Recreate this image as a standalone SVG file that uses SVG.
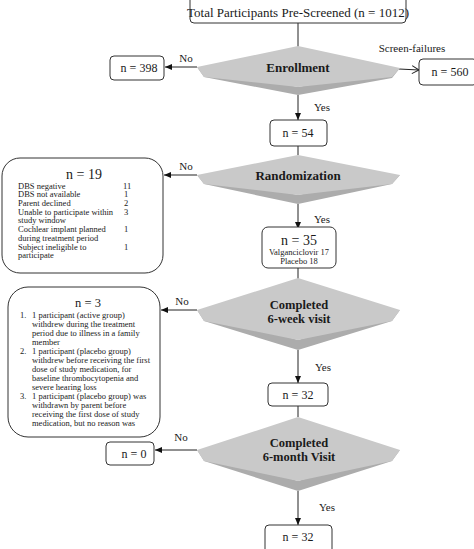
<svg xmlns="http://www.w3.org/2000/svg" width="474" height="549" viewBox="0 0 474 549">
<style>
.box{fill:#fff;stroke:#333;stroke-width:1}
.t{font-family:"Liberation Serif",serif;fill:#1a1a1a}
.c{text-anchor:middle}
.b{font-weight:bold}
.face{fill:#c9c9c9}
.band{fill:#acacac}
.ln{stroke:#222;stroke-width:1;fill:none}
</style>
<defs>
<marker id="ah" markerWidth="8" markerHeight="8" refX="7" refY="4" orient="auto" markerUnits="userSpaceOnUse">
<path d="M0,1 L7,4 L0,7 Z" fill="#111"/>
</marker>
<marker id="oa" markerWidth="10" markerHeight="10" refX="8" refY="5" orient="auto" markerUnits="userSpaceOnUse">
<path d="M1,1 L8,5 L1,9" fill="none" stroke="#222" stroke-width="1"/>
</marker>
</defs>

<g id="connectors">
<line class="ln" x1="298" y1="23" x2="298" y2="47"/>
<line class="ln" x1="197" y1="67" x2="165" y2="67" marker-end="url(#ah)"/>
<line class="ln" x1="399" y1="69" x2="419" y2="70" marker-end="url(#oa)"/>
<line class="ln" x1="298" y1="95" x2="298" y2="120" marker-end="url(#ah)"/>
<line class="ln" x1="298" y1="146" x2="298" y2="155"/>
<line class="ln" x1="197" y1="175" x2="164" y2="175" marker-end="url(#ah)"/>
<line class="ln" x1="298" y1="204" x2="298" y2="229" marker-end="url(#ah)"/>
<line class="ln" x1="298" y1="268" x2="298" y2="279"/>
<line class="ln" x1="197" y1="310" x2="161" y2="310" marker-end="url(#ah)"/>
<line class="ln" x1="298" y1="350" x2="298" y2="383" marker-end="url(#ah)"/>
<line class="ln" x1="298" y1="406" x2="298" y2="417"/>
<line class="ln" x1="197" y1="450" x2="155" y2="450" marker-end="url(#ah)"/>
<line class="ln" x1="298" y1="491" x2="298" y2="525" marker-end="url(#ah)"/>
<text class="t" x="186" y="62" font-size="11" text-anchor="middle">No</text>
<text class="t" x="412" y="52" font-size="11" text-anchor="middle">Screen-failures</text>
<text class="t" x="322" y="111" font-size="11" text-anchor="middle">Yes</text>
<text class="t" x="186" y="170" font-size="11" text-anchor="middle">No</text>
<text class="t" x="322" y="223" font-size="11" text-anchor="middle">Yes</text>
<text class="t" x="182" y="305" font-size="11" text-anchor="middle">No</text>
<text class="t" x="323" y="371" font-size="11" text-anchor="middle">Yes</text>
<text class="t" x="181" y="441" font-size="11" text-anchor="middle">No</text>
<text class="t" x="327" y="511" font-size="11" text-anchor="middle">Yes</text>
</g>

<g id="prescreened">
<rect class="box" x="190" y="-6" width="216" height="29" rx="4"/>
<text class="t c" x="298" y="17" font-size="13">Total Participants Pre-Screened (n = 1012)</text>
</g>

<g id="enrollment">
<polygon class="band" points="197,67 204,77 298,95 392,78 400,68 298,87"/>
<polygon class="face" points="197,67 298,46 400,68 392,77 298,87 204,77"/>
<text class="t c b" x="298" y="72" font-size="13">Enrollment</text>
</g>

<g id="n398">
<rect class="box" x="110" y="56" width="54" height="24" rx="4"/>
<text class="t c" x="139" y="72" font-size="12">n = 398</text>
</g>

<g id="n560">
<rect class="box" x="419" y="59" width="58" height="26" rx="4"/>
<text class="t c" x="450" y="76" font-size="12">n = 560</text>
</g>

<g id="n54">
<rect class="box" x="270" y="120" width="57" height="26" rx="4"/>
<text class="t c" x="298" y="137" font-size="12">n = 54</text>
</g>

<g id="randomization">
<polygon class="band" points="197,175 204,184 298,204 392,184 400,175 298,195"/>
<polygon class="face" points="197,175 298,155 400,175 392,184 298,195 204,184"/>
<text class="t c b" x="298" y="180" font-size="13">Randomization</text>
</g>

<g id="n19">
<rect class="box" x="2" y="158" width="161" height="115" rx="18"/>
<text class="t c" x="84" y="179" font-size="14">n = 19</text>
<g class="t" font-size="8.5">
<text x="18" y="188.5">DBS negative</text><text x="123" y="188.5">11</text>
<text x="18" y="197">DBS not available</text><text x="124" y="197">1</text>
<text x="18" y="205.5">Parent declined</text><text x="124" y="205.5">2</text>
<text x="18" y="214.5">Unable to participate within</text><text x="124" y="214.5">3</text>
<text x="18" y="223">study window</text>
<text x="18" y="232">Cochlear implant planned</text><text x="124" y="232">1</text>
<text x="18" y="240.5">during treatment period</text>
<text x="18" y="249.5">Subject ineligible to</text><text x="124" y="249.5">1</text>
<text x="18" y="258">participate</text>
</g>
</g>

<g id="n35">
<rect class="box" x="262" y="227" width="74" height="41" rx="6"/>
<text class="t c" x="299" y="245" font-size="14">n = 35</text>
<text class="t c" x="299" y="255" font-size="8.5">Valganciclovir 17</text>
<text class="t c" x="299" y="264" font-size="8.5">Placebo 18</text>
</g>

<g id="week6">
<polygon class="band" points="197,310 204,321 298,350 392,321 400,310 298,340"/>
<polygon class="face" points="197,310 298,278 400,310 392,321 298,340 204,321"/>
<text class="t c b" x="299" y="309" font-size="12.5">Completed</text>
<text class="t c b" x="299" y="323" font-size="12.5">6-week visit</text>
</g>

<g id="n3">
<rect class="box" x="8" y="287" width="152" height="150" rx="20"/>
<text class="t c" x="88" y="307" font-size="12.5">n = 3</text>
<g class="t" font-size="8.5">
<text x="20" y="317.5">1.</text><text x="32" y="317.5">1 participant (active group)</text>
<text x="32" y="326.5">withdrew during the treatment</text>
<text x="32" y="335.5">period due to illness in a family</text>
<text x="32" y="344.5">member</text>
<text x="20" y="353.5">2.</text><text x="32" y="353.5">1 participant (placebo group)</text>
<text x="32" y="362.5">withdrew before receiving the first</text>
<text x="32" y="371.5">dose of study medication, for</text>
<text x="32" y="380.5">baseline thrombocytopenia and</text>
<text x="32" y="389.5">severe hearing loss</text>
<text x="20" y="399">3.</text><text x="32" y="399">1 participant (placebo group) was</text>
<text x="32" y="408">withdrawn by parent before</text>
<text x="32" y="417">receiving the first dose of study</text>
<text x="32" y="426">medication, but no reason was</text>
</g>
</g>

<g id="n32a">
<rect class="box" x="268" y="383" width="60" height="23" rx="4"/>
<text class="t c" x="298" y="399" font-size="12">n = 32</text>
</g>

<g id="month6">
<polygon class="band" points="197,450 204,461 298,491 392,461 400,450 298,481"/>
<polygon class="face" points="197,450 298,417 400,450 392,461 298,481 204,461"/>
<text class="t c b" x="299" y="447" font-size="12.5">Completed</text>
<text class="t c b" x="299" y="461" font-size="12.5">6-month Visit</text>
</g>

<g id="n0">
<rect class="box" x="106" y="442" width="48" height="23" rx="4"/>
<text class="t c" x="134" y="458" font-size="12">n = 0</text>
</g>

<g id="n32b">
<rect class="box" x="265" y="525" width="67" height="28" rx="4"/>
<text class="t c" x="298" y="541" font-size="12">n = 32</text>
</g>
</svg>
